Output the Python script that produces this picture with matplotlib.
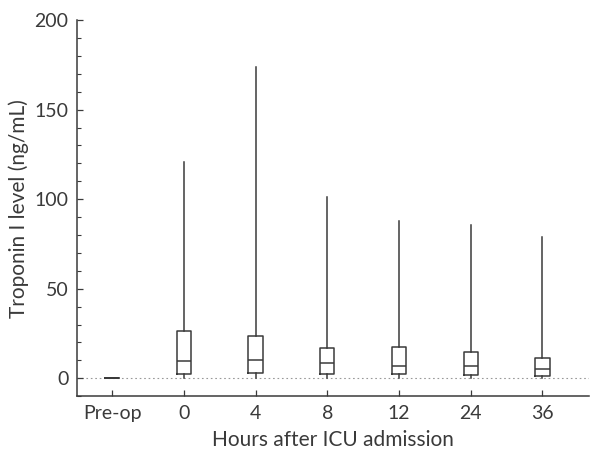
import matplotlib.pyplot as plt
from matplotlib.ticker import MultipleLocator

labels = ["Pre-op", "0", "4", "8", "12", "24", "36"]
whis_lo = [0.0, 0.3, 0.4, 0.3, 0.3, 0.2, 0.1]
q1 = [0.0, 2.4, 3.2, 2.4, 2.4, 1.9, 1.3]
median = [0.0, 9.7, 10.4, 8.6, 6.7, 6.9, 4.9]
q3 = [0.0, 26.4, 23.5, 16.9, 17.7, 14.4, 11.3]
whis_hi = [0.0, 121, 174, 101, 88, 85.5, 79]

plt.rcParams['font.family'] = ['Lato', 'DejaVu Sans']
ink = '#3a3a3a'

fig = plt.figure(figsize=(5.92, 4.58), dpi=100)
ax = fig.add_axes([0.130, 0.135, 0.865, 0.821])

stats = []
for i in range(len(labels)):
    stats.append(dict(label=labels[i], whislo=whis_lo[i], q1=q1[i], med=median[i],
                      q3=q3[i], whishi=whis_hi[i], fliers=[]))

line = dict(color=ink, linewidth=1.1)
ax.bxp(stats, positions=range(len(labels)), widths=0.2, showcaps=False,
       boxprops=line, whiskerprops=line, medianprops=line, capprops=line)

# dotted zero line
ax.axhline(0, color='#999999', linestyle=(0, (1.5, 2.5)), linewidth=0.8, zorder=0)

ax.set_xlim(-0.49, 6.65)
ax.set_ylim(-10, 200)
ax.set_xticks(range(len(labels)))
ax.set_xticklabels(labels)
ax.set_yticks([0, 50, 100, 150, 200])
ax.yaxis.set_minor_locator(MultipleLocator(10))

for s in ['top', 'right']:
    ax.spines[s].set_visible(False)
for s in ['left', 'bottom']:
    ax.spines[s].set_color(ink)
    ax.spines[s].set_linewidth(1.1)

ax.tick_params(axis='both', which='major', direction='in', length=4, width=0.9,
               color=ink, labelsize=14, labelcolor=ink, pad=6)
ax.tick_params(axis='y', which='minor', direction='in', length=3, width=0.8, color=ink)

ax.set_ylabel('Troponin I level (ng/mL)', fontsize=15, color=ink, labelpad=4)
ax.set_xlabel('Hours after ICU admission', fontsize=15, color=ink, labelpad=6)

fig.savefig('out.png', dpi=100)
